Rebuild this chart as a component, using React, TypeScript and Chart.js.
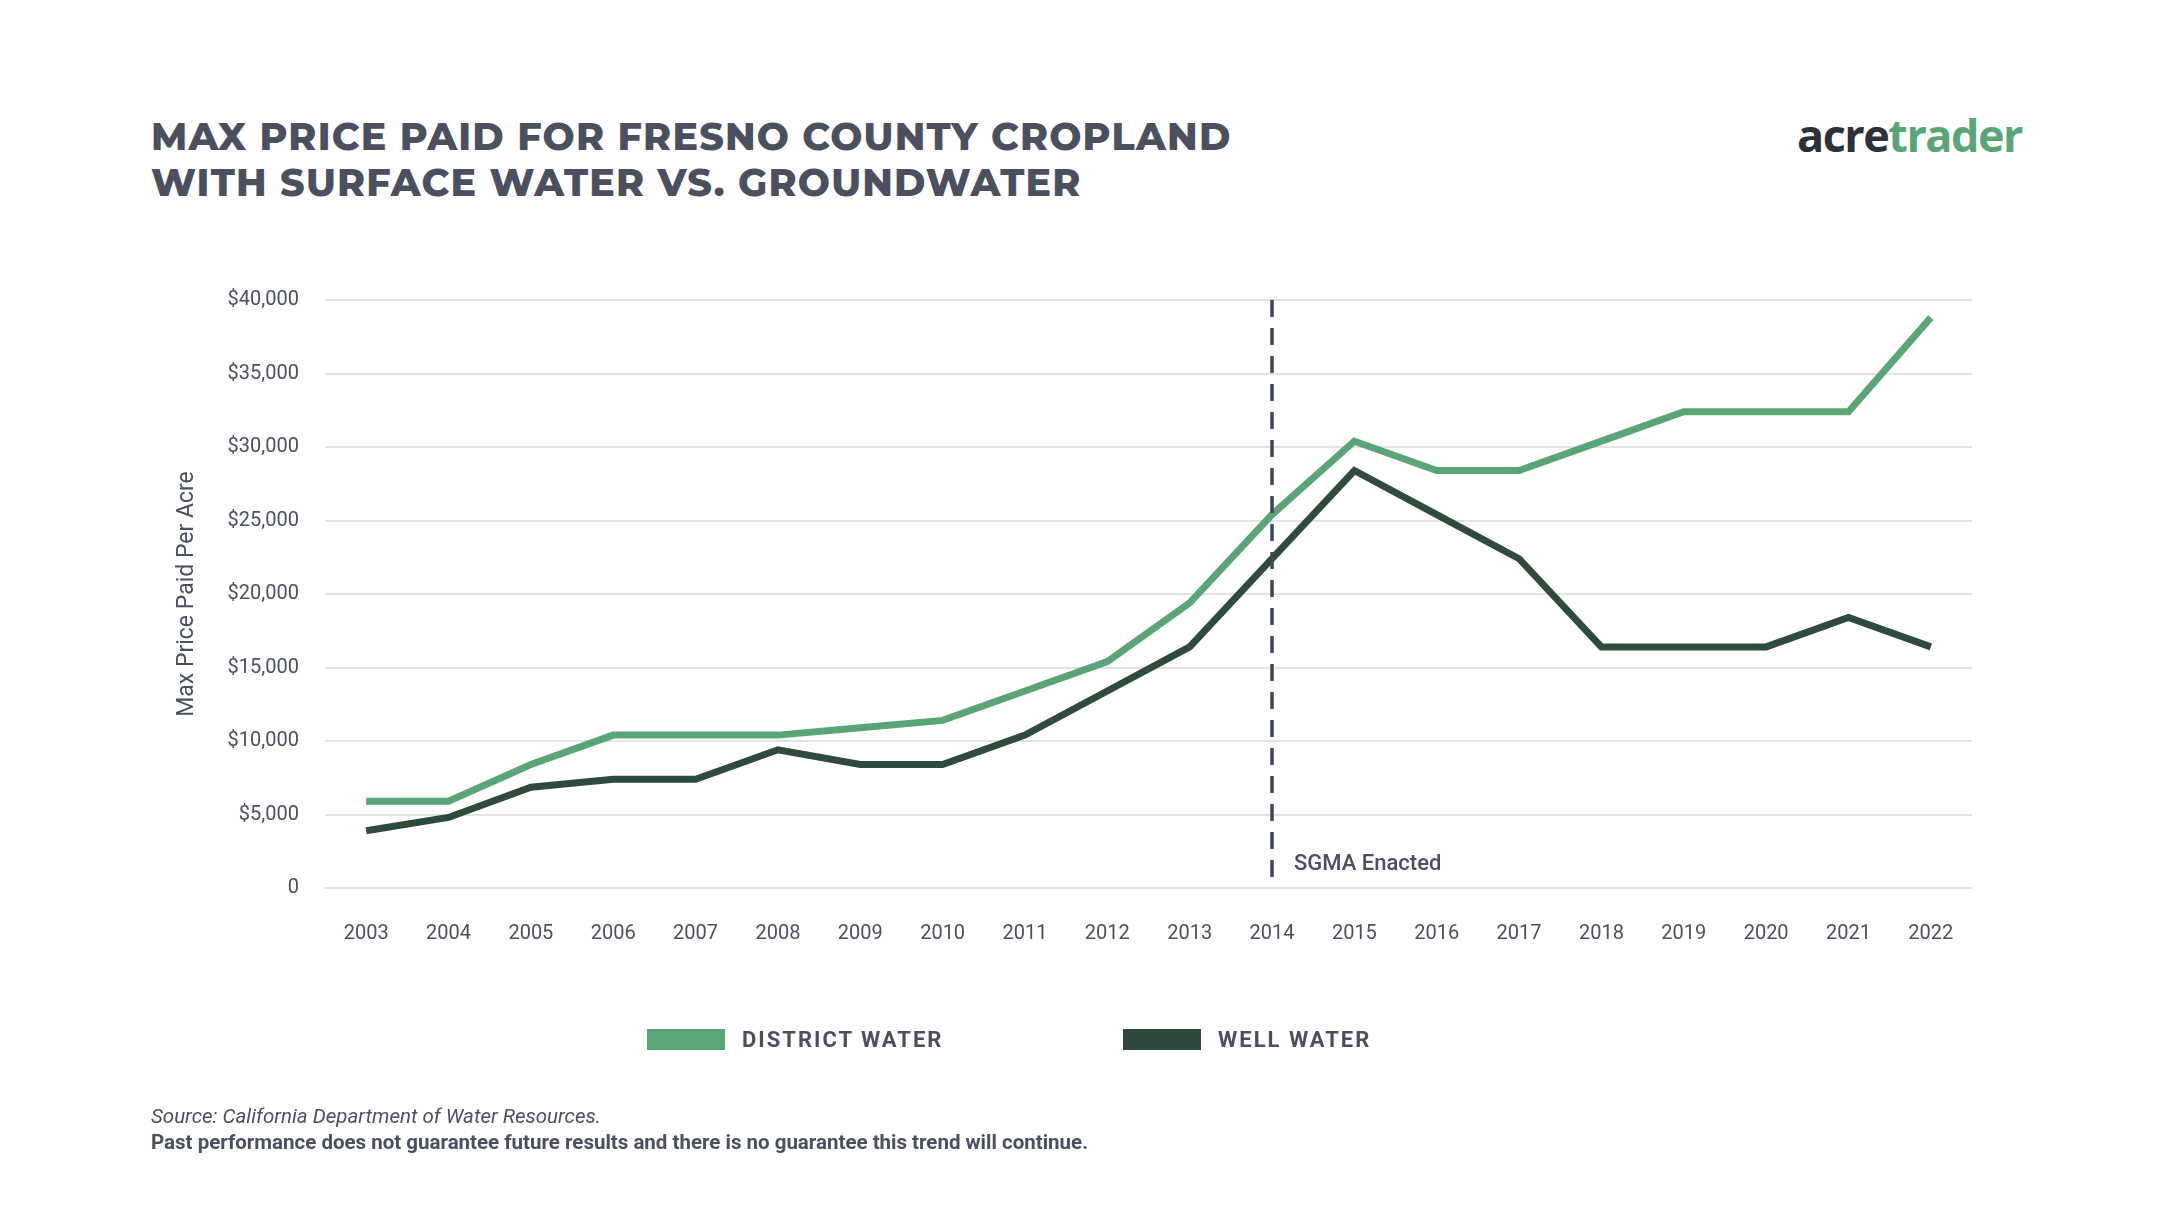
import React, { useEffect, useRef } from "react";
import { Chart, registerables } from "chart.js";
Chart.register(...registerables);

const years = ["2003","2004","2005","2006","2007","2008","2009","2010","2011","2012","2013","2014","2015","2016","2017","2018","2019","2020","2021","2022"];
const districtWater = [5900,5900,8400,10400,10400,10400,10900,11400,13400,15400,19400,25400,30400,28400,28400,30400,32400,32400,32400,38800];
const wellWater = [3900,4800,6850,7400,7400,9400,8400,8400,10400,13400,16400,22400,28400,25400,22400,16400,16400,16400,18400,16400];
const yTicks = [0,5000,10000,15000,20000,25000,30000,35000,40000];
const eventYear = "2014";
const eventLabel = "SGMA Enacted";

const TEXT = "#4a5060";
const GREEN = "#5aa575";
const DARK = "#2e4b3b";

const sgmaPlugin = {
  id: "sgma",
  afterDatasetsDraw(chart: any) {
    const { ctx, scales } = chart;
    const x = scales.x.getPixelForValue(years.indexOf(eventYear));
    const top = scales.y.getPixelForValue(40000);
    const bottom = scales.y.getPixelForValue(0) - 3;
    ctx.save();
    ctx.strokeStyle = "#3e4556";
    ctx.lineWidth = 3.5;
    ctx.setLineDash([17, 11]);
    ctx.beginPath();
    ctx.moveTo(x, top);
    ctx.lineTo(x, bottom);
    ctx.stroke();
    ctx.setLineDash([]);
    ctx.fillStyle = TEXT;
    ctx.font = "500 22px Roboto";
    ctx.textBaseline = "middle";
    ctx.fillText(eventLabel, x + 22, scales.y.getPixelForValue(1600));
    ctx.restore();
  },
};

export default function App() {
  const ref = useRef<HTMLCanvasElement>(null);
  useEffect(() => {
    const chart = new Chart(ref.current!, {
      type: "line",
      data: {
        labels: years,
        datasets: [
          { label: "District Water", data: districtWater, borderColor: GREEN, borderWidth: 7, pointRadius: 0, tension: 0 },
          { label: "Well Water", data: wellWater, borderColor: DARK, borderWidth: 7, pointRadius: 0, tension: 0 },
        ],
      },
      options: {
        animation: false,
        responsive: false,
        layout: { padding: { left: 165, right: 200, top: 300, bottom: 250 } },
        plugins: { legend: { display: false }, tooltip: { enabled: false } },
        scales: {
          x: {
            offset: true,
            grid: { display: false },
            border: { display: false },
            ticks: { color: TEXT, font: { family: "Roboto", size: 20 }, padding: 26, maxRotation: 0 },
          },
          y: {
            min: 0,
            max: 40000,
            afterBuildTicks: (s: any) => { s.ticks = yTicks.map((v) => ({ value: v })); },
            afterFit: (s: any) => { s.width = 160; },
            grid: { color: "#e3e3e3", lineWidth: 2, drawTicks: false },
            border: { display: false },
            ticks: {
              color: TEXT,
              padding: 26,
              font: { family: "Roboto", size: 20 },
              callback: (v: any) => (v === 0 ? "0" : "$" + Number(v).toLocaleString("en-US")),
            },
            title: { display: true, text: "Max Price Paid Per Acre", color: TEXT, font: { family: "Roboto", size: 23 }, padding: { top: 8, bottom: 14 } },
          },
        },
      },
      plugins: [sgmaPlugin],
    });
    return () => chart.destroy();
  }, []);

  const legendItem = (color: string, label: string, left: number) => (
    <div style={{ position: "absolute", left, top: 1027, display: "flex", alignItems: "center" }}>
      <div style={{ width: 78, height: 21, background: color, marginRight: 17 }} />
      <span style={{ fontFamily: "Roboto", fontWeight: 700, fontSize: 22, letterSpacing: 2, color: TEXT }}>{label}</span>
    </div>
  );

  return (
    <div style={{ position: "absolute", left: 0, top: 0, width: 2172, height: 1222, background: "#fff", overflow: "hidden" }}>
      <div style={{ position: "absolute", left: 151, top: 114, fontFamily: "Montserrat, 'Open Sans', sans-serif", fontWeight: 800, fontSize: 38, lineHeight: "46px", letterSpacing: 1.2, color: TEXT }}>
        MAX PRICE PAID FOR FRESNO COUNTY CROPLAND<br />WITH SURFACE WATER VS. GROUNDWATER
      </div>
      <div style={{ position: "absolute", left: 1797, top: 104, fontFamily: "'Open Sans', sans-serif", fontWeight: 700, fontSize: 45, letterSpacing: -1.5 }}>
        <span style={{ color: "#2b3138" }}>acre</span><span style={{ color: "#5aa575" }}>trader</span>
      </div>
      <canvas ref={ref} width={2172} height={1222} style={{ position: "absolute", left: 0, top: 0 }} />
      {legendItem(GREEN, "DISTRICT WATER", 647)}
      {legendItem(DARK, "WELL WATER", 1123)}
      <div style={{ position: "absolute", left: 151, top: 1104, fontFamily: "Roboto", fontStyle: "italic", fontSize: 20.5, color: TEXT }}>
        Source: California Department of Water Resources.
      </div>
      <div style={{ position: "absolute", left: 151, top: 1130, fontFamily: "Roboto", fontWeight: 700, fontSize: 20.5, color: TEXT }}>
        Past performance does not guarantee future results and there is no guarantee this trend will continue.
      </div>
    </div>
  );
}
